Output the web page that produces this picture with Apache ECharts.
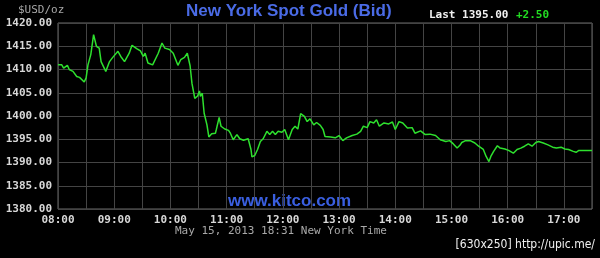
<!DOCTYPE html>
<html><head><meta charset="utf-8">
<script src="https://cdn.jsdelivr.net/npm/echarts@6/dist/echarts.min.js"></script>
<style>html,body{margin:0;padding:0;background:#000;}#c{width:600px;height:258px;}</style>
</head><body><div id="c"></div>
<script>
const times = ["08:00","08:04","08:06","08:10","08:12","08:16","08:20","08:23","08:28","08:30","08:32","08:35","08:38","08:41","08:44","08:46","08:51","08:55","08:58","09:00","09:04","09:07","09:11","09:16","09:19","09:24","09:28","09:31","09:33","09:36","09:41","09:43","09:47","09:51","09:54","09:59","10:03","10:08","10:11","10:15","10:18","10:21","10:23","10:26","10:29","10:31","10:32","10:34","10:36","10:39","10:41","10:44","10:48","10:49","10:52","10:54","10:56","10:58","11:02","11:04","11:07","11:11","11:14","11:18","11:23","11:26","11:27","11:30","11:33","11:36","11:39","11:43","11:46","11:49","11:52","11:55","11:59","12:02","12:06","12:10","12:13","12:16","12:19","12:23","12:26","12:29","12:33","12:36","12:40","12:43","12:45","12:51","12:56","13:00","13:04","13:08","13:14","13:19","13:23","13:26","13:30","13:33","13:37","13:40","13:43","13:48","13:53","13:57","14:00","14:04","14:08","14:13","14:18","14:21","14:27","14:32","14:37","14:43","14:48","14:54","14:58","15:02","15:06","15:09","15:11","15:15","15:20","15:25","15:29","15:34","15:37","15:40","15:42","15:45","15:49","15:52","15:57","16:01","16:06","16:10","16:14","16:18","16:22","16:26","16:30","16:33","16:38","16:43","16:48","16:52","16:57","17:01","17:05","17:10","17:13","17:16","17:22","17:30"];
const prices = [1411.0,1411.0,1410.3,1410.9,1410.0,1409.6,1408.5,1408.3,1407.3,1408.2,1411.0,1413.2,1417.5,1415.0,1414.6,1411.7,1409.6,1411.7,1412.5,1412.1,1413.9,1412.8,1411.7,1413.5,1415.2,1414.5,1414.0,1412.8,1413.5,1411.4,1411.0,1411.4,1413.5,1415.7,1414.6,1414.3,1413.5,1410.9,1412.1,1412.6,1413.5,1410.8,1407.0,1403.8,1404.3,1405.4,1404.2,1404.9,1400.6,1398.1,1395.5,1396.2,1396.3,1397.1,1399.7,1397.8,1398.1,1397.2,1396.9,1396.3,1394.9,1396.0,1395.1,1394.8,1395.1,1392.8,1391.2,1391.5,1392.8,1394.5,1395.1,1396.7,1396.0,1396.7,1396.0,1396.7,1396.5,1397.1,1394.9,1397.1,1397.8,1397.2,1400.5,1399.9,1398.8,1399.4,1398.1,1398.6,1398.0,1397.1,1395.6,1395.5,1395.3,1395.8,1394.7,1395.3,1395.8,1396.1,1396.7,1397.8,1397.5,1398.8,1398.5,1399.2,1397.8,1398.5,1398.3,1398.7,1397.1,1398.8,1398.5,1397.4,1397.5,1396.3,1396.8,1396.0,1396.1,1395.8,1394.9,1394.5,1394.7,1394.0,1393.1,1393.7,1394.3,1394.7,1394.7,1394.2,1393.5,1392.8,1391.3,1390.2,1391.3,1392.4,1393.6,1393.1,1392.9,1392.6,1392.0,1392.8,1393.1,1393.5,1394.0,1393.5,1394.3,1394.5,1394.2,1393.8,1393.3,1393.1,1393.3,1392.9,1392.8,1392.4,1392.2,1392.6,1392.6,1392.6];
const yTicks = [1380,1385,1390,1395,1400,1405,1410,1415,1420];
const xLabels = ["08:00","09:00","10:00","11:00","12:00","13:00","14:00","15:00","16:00","17:00"];
const titleText = "New York Spot Gold (Bid)";
const unitText = "$USD/oz";
const lastText = "Last 1395.00";
const changeText = "+2.50";
const dateText = "May 15, 2013 18:31 New York Time";
const siteText = "www.kitco.com";
const stampText = "[630x250] http://upic.me/";

const toMin = s => { const p = s.split(":"); return (+p[0]) * 60 + (+p[1]); };
const series = times.map((t, i) => [toMin(t), prices[i]]);
const hourSet = new Set(xLabels.map(toMin));
const mono = "'DejaVu Sans Mono', 'Liberation Mono', monospace";

const chart = echarts.init(document.getElementById('c'), null, {renderer: 'canvas'});
chart.setOption({
  backgroundColor: '#000',
  animation: false,
  grid: {left: 58, right: 8, top: 23, bottom: 49, show: true, borderColor: '#6a6a6a', borderWidth: 1, backgroundColor: 'transparent'},
  xAxis: {
    type: 'value', min: 480, max: 1050, interval: 30,
    axisLine: {show: false}, axisTick: {show: false},
    splitLine: {show: true, lineStyle: {color: '#444', width: 1}},
    axisLabel: {
      color: '#d8d8d8', fontFamily: mono, fontSize: 11, fontWeight: 'bold', margin: 6,
      showMaxLabel: false,
      formatter: v => hourSet.has(v) ? (String(Math.floor(v / 60)).padStart(2, '0') + ':00') : ''
    }
  },
  yAxis: {
    type: 'value', min: yTicks[0], max: yTicks[yTicks.length - 1], interval: 5,
    axisLine: {show: false}, axisTick: {show: false},
    splitLine: {show: true, lineStyle: {color: '#444', width: 1}},
    axisLabel: {color: '#d8d8d8', fontFamily: mono, fontSize: 11, fontWeight: 'bold', margin: 6,
      formatter: v => v.toFixed(2)}
  },
  graphic: [
    {type: 'text', left: 186, top: 3, style: {text: titleText, fill: '#4a6be6', font: 'bold 17px "Liberation Sans", Arial, sans-serif'}},
    {type: 'text', left: 18, top: 5, style: {text: unitText, fill: '#a8a8a8', font: '11px ' + mono}},
    {type: 'text', left: 429, top: 10, style: {text: lastText, fill: '#f0f0f0', font: 'bold 11px ' + mono}},
    {type: 'text', left: 516, top: 10, style: {text: changeText, fill: '#22dd22', font: 'bold 11px ' + mono}},
    {type: 'text', left: 175, top: 226, style: {text: dateText, fill: '#a8a8a8', font: '11px ' + mono}},
    {type: 'text', left: 228, top: 193, style: {text: siteText, fill: '#3a5fe0', font: 'bold 17px "Liberation Sans", Arial, sans-serif'}},
    {type: 'text', right: 5, top: 239, style: {text: stampText, fill: '#f0f0f0', font: '12px "Liberation Sans Narrow", "DejaVu Sans Condensed", "Liberation Sans", sans-serif'}}
  ],
  series: [{
    type: 'line', data: series, showSymbol: false, smooth: false,
    lineStyle: {color: '#2ee02e', width: 1.5}
  }]
});
</script></body></html>
